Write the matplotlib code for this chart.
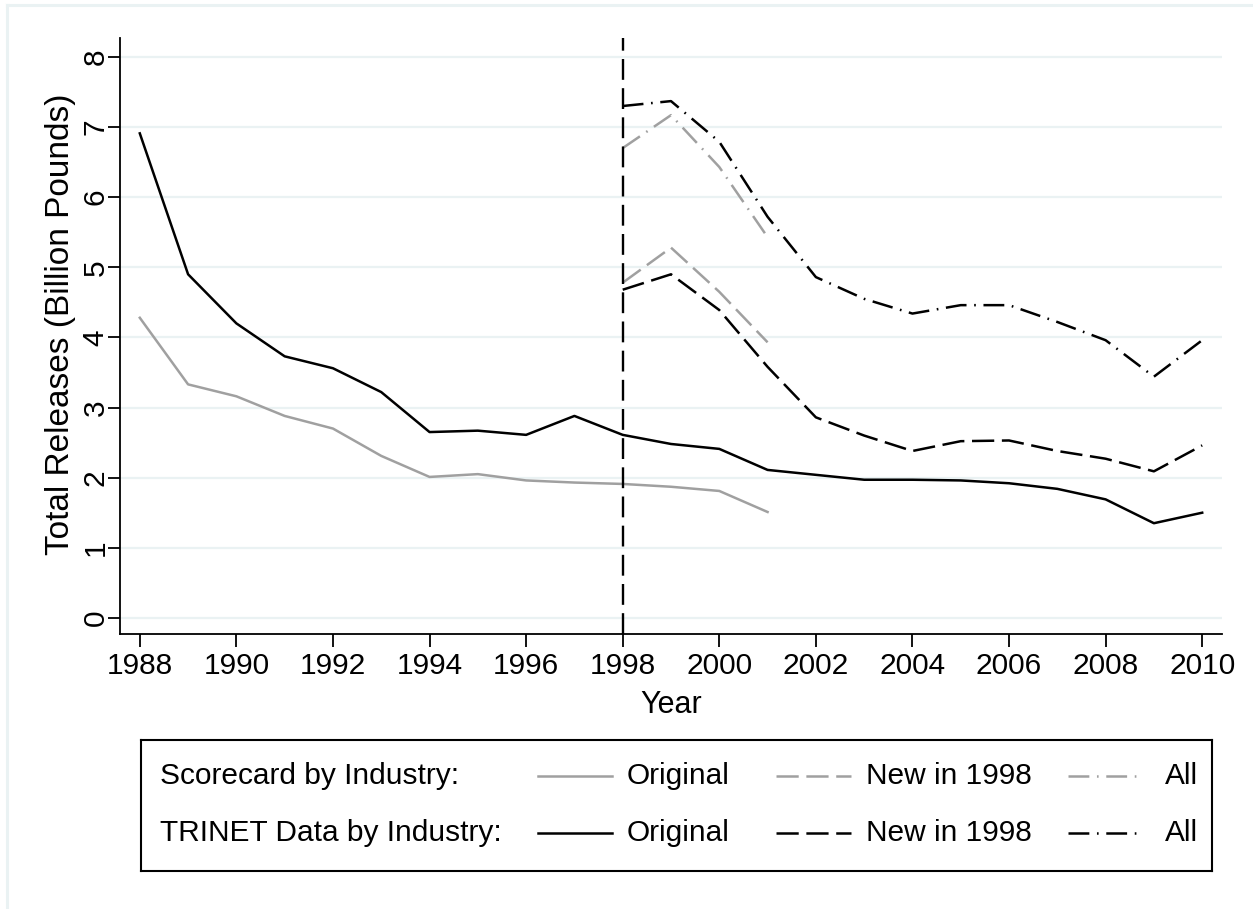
import matplotlib
matplotlib.use('Agg')
import matplotlib.pyplot as plt
from matplotlib.lines import Line2D

plt.rcParams['font.family'] = ['Liberation Sans', 'DejaVu Sans']
plt.rcParams['lines.scale_dashes'] = False

# Series (billion pounds)
years_long = list(range(1988, 2011))
years_sc_orig = list(range(1988, 2002))
years_new = list(range(1998, 2011))
years_sc_new = list(range(1998, 2002))

sc_original = [4.28, 3.33, 3.16, 2.88, 2.70, 2.31, 2.01, 2.05, 1.96, 1.93, 1.91, 1.87, 1.81, 1.51]
sc_new1998 = [4.78, 5.28, 4.65, 3.93]
sc_all = [6.70, 7.17, 6.43, 5.43]

tri_original = [6.91, 4.90, 4.20, 3.73, 3.56, 3.22, 2.65, 2.67, 2.61, 2.88, 2.61,
                2.48, 2.41, 2.11, 2.04, 1.97, 1.97, 1.96, 1.92, 1.84, 1.69, 1.35, 1.50]
tri_new1998 = [4.68, 4.90, 4.39, 3.58, 2.86, 2.60, 2.38, 2.52, 2.53, 2.38, 2.27, 2.09, 2.46]
tri_all = [7.30, 7.37, 6.79, 5.72, 4.86, 4.55, 4.34, 4.46, 4.46, 4.22, 3.96, 3.44, 3.96]

break_year = 1998
x_ticks = list(range(1988, 2011, 2))
y_ticks = list(range(0, 9))

GREY = '#a0a0a0'
BLACK = '#000000'
GRID = '#eaf2f3'
SOLID = '-'
DASH = (0, (16, 5.5))
DASHDOT = (0, (15, 5.5, 1.2, 5.5))

W, H = 1253, 909
fig = plt.figure(figsize=(W / 100, H / 100), dpi=100)
fig.patch.set_facecolor('white')

# light outer frame (left and top edges)
fig.add_artist(Line2D([7 / W, 7 / W], [0, 1 - 5 / H], color=GRID, lw=2.2, transform=fig.transFigure))
fig.add_artist(Line2D([7 / W, 1], [1 - 5 / H, 1 - 5 / H], color=GRID, lw=2.2, transform=fig.transFigure))

ax = fig.add_axes([120 / W, 1 - 634 / H, (1222 - 120) / W, (634 - 38) / H])
ax.set_xlim(1987.59, 2010.41)
ax.set_ylim(-0.23, 8.27)

for y in y_ticks:
    ax.axhline(y, color=GRID, lw=1.6, zorder=0)

lw = 1.8
ax.plot(years_sc_orig, sc_original, color=GREY, lw=lw, ls=SOLID)
ax.plot(years_sc_new, sc_new1998, color=GREY, lw=lw, ls=DASH)
ax.plot(years_sc_new, sc_all, color=GREY, lw=lw, ls=DASHDOT)
ax.plot(years_long, tri_original, color=BLACK, lw=lw, ls=SOLID)
ax.plot(years_new, tri_new1998, color=BLACK, lw=lw, ls=DASH)
ax.plot(years_new, tri_all, color=BLACK, lw=lw, ls=DASHDOT)

ax.axvline(break_year, color=BLACK, lw=1.7, ls=(0, (15, 6)), zorder=3)

for s in ['top', 'right']:
    ax.spines[s].set_visible(False)
for s in ['left', 'bottom']:
    ax.spines[s].set_linewidth(1.3)

ax.set_xticks(x_ticks)
ax.set_yticks(y_ticks)
ax.tick_params(axis='both', length=9, width=1.3, labelsize=21.5)
ax.tick_params(axis='x', pad=4)
ax.tick_params(axis='y', pad=8.6)
ax.set_yticklabels([str(v) for v in y_ticks], rotation=90, va='center', ha='center')
ax.set_xlabel('Year', fontsize=22, labelpad=7)
ax.set_ylabel('Total Releases (Billion Pounds)', fontsize=24)
ax.yaxis.set_label_coords(-0.040, 0.52)

# legend box drawn by hand
lax = fig.add_axes([141 / W, 1 - 871 / H, (1212 - 141) / W, (871 - 740) / H])
lax.set_xlim(141, 1212)
lax.set_ylim(871, 740)
lax.set_xticks([])
lax.set_yticks([])
for s in lax.spines.values():
    s.set_linewidth(1.5)

rows = [
    ('Scorecard by Industry:', GREY, 776),
    ('TRINET Data by Industry:', BLACK, 833),
]
entries = [
    (SOLID, 'Original', 538, 612, 627),
    (DASH, 'New in 1998', 776, 851, 866),
    (DASHDOT, 'All', 1068, 1143, 1165),
]
for title, col, yr in rows:
    lax.text(160, yr, title, fontsize=21.5, ha='left', va='center')
    for ls, lab, x0, x1, xt in entries:
        lax.plot([x0, x1], [yr, yr], color=col, lw=lw, ls=ls)
        lax.text(xt, yr, lab, fontsize=21.5, ha='left', va='center')

fig.savefig('out.png', dpi=100, facecolor='white')
